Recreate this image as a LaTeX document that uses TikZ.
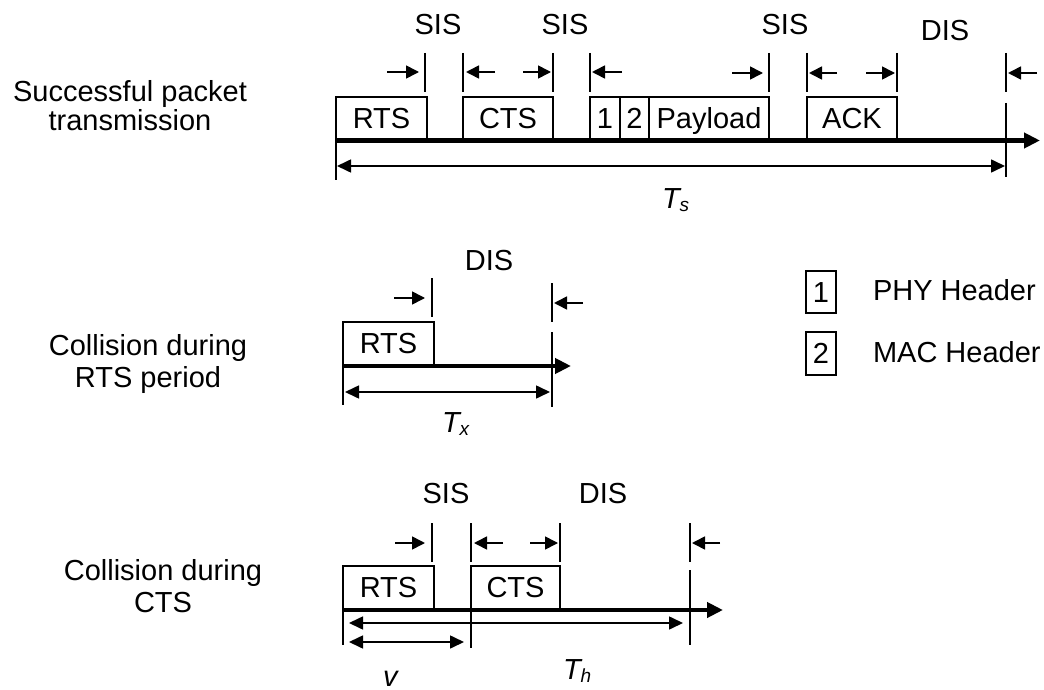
\documentclass[tikz,border=0pt]{standalone}
\usepackage{fontspec}
\setmainfont{Liberation Sans}
\usetikzlibrary{arrows.meta}
\newcommand{\subit}[1]{\raisebox{-3pt}{\fontsize{19}{20}\selectfont\itshape #1}}
\begin{document}
\begin{tikzpicture}[x=1pt,y=-1pt,
  every node/.style={font=\fontsize{29}{32}\selectfont, inner sep=0pt, outer sep=0pt},
  txt/.style={anchor=base},
  pkt/.style={draw, line width=1.8pt, anchor=north west, minimum height=42pt, text height=20.8pt, text depth=0pt},
  tick/.style={line width=1.4pt},
  timeline/.style={line width=4.5pt, -{Triangle[length=16pt,width=15pt]}},
  sarr/.style={line width=1.6pt, -{Triangle[length=13pt,width=13pt]}},
  span/.style={line width=1.6pt, {Triangle[length=14pt,width=13pt]}-{Triangle[length=14pt,width=13pt]}}
]
\useasboundingbox (0,0) rectangle (1044,690);

% ---------- left labels ----------
\node[txt] (l1a) at (130,102) {Successful packet};
\node[txt] (l1b) at (130,131) {transmission};
\node[txt] (l2a) at (148,355) {Collision during};
\node[txt] (l2b) at (148,387) {RTS period};
\node[txt] (l3a) at (163,580) {Collision during};
\node[txt] (l3b) at (163,612) {CTS};

% ================= Row 1 =================
\node[pkt, minimum width=91pt] (r1rts) at (336,97) {RTS};
\node[pkt, minimum width=90pt] (r1cts) at (463,97) {CTS};
\node[pkt, minimum width=30pt] (r1h1) at (590,97) {1};
\node[pkt, minimum width=29pt] (r1h2) at (620,97) {2};
\node[pkt, minimum width=120pt] (r1pl) at (649,97) {Payload};
\node[pkt, minimum width=90pt] (r1ack) at (807,97) {ACK};

\coordinate (r1s) at (336,140.5);
\coordinate (r1e) at (1040,140.5);
\coordinate (r1lb) at (336,180);
\draw[tick] (r1rts.north west) -- (r1lb);
\draw[timeline] (r1s) -- (r1e);

% ticks
\coordinate (t1a) at (425,53);  \coordinate (t1b) at (425,92);
\coordinate (t2a) at (463,53);  \coordinate (t2b) at (463,92);
\coordinate (t3a) at (553,53);  \coordinate (t3b) at (553,92);
\coordinate (t4a) at (590,53);  \coordinate (t4b) at (590,92);
\coordinate (t5a) at (769,53);  \coordinate (t5b) at (769,92);
\coordinate (t6a) at (807,53);  \coordinate (t6b) at (807,92);
\coordinate (t7a) at (897,53);  \coordinate (t7b) at (897,92);
\coordinate (t8a) at (1006,53); \coordinate (t8b) at (1006,92);
\coordinate (t8c) at (1006,103); \coordinate (t8d) at (1006,177);
\foreach \i in {1,...,8} {\draw[tick] (t\i a) -- (t\i b);}
\draw[tick] (t8c) -- (t8d);

% small arrows
\draw[sarr] (387,72) -- (419,72);
\draw[sarr] (495,72) -- (466,72);
\draw[sarr] (523,72) -- (551,72);
\draw[sarr] (622,72) -- (592,72);
\draw[sarr] (732,73) -- (763,73);
\draw[sarr] (837,73) -- (809,73);
\draw[sarr] (866,73) -- (895,73);
\draw[sarr] (1037,73) -- (1008,73);

\node[txt] (sis1) at (438,35) {SIS};
\node[txt] (sis2) at (565,35) {SIS};
\node[txt] (sis3) at (785,35) {SIS};
\node[txt] (dis1) at (945,41) {DIS};

\coordinate (ts0) at (337,166);
\coordinate (ts1) at (1005,166);
\draw[span] (ts0) -- (ts1);
\node[anchor=base west] (tslbl) at (662,208) {\itshape T\subit{s}};

% ================= Row 2 =================
\node[pkt, minimum width=91pt, minimum height=43pt] (r2rts) at (343,322) {RTS};
\coordinate (r2s) at (343,366);
\coordinate (r2e) at (571,366);
\coordinate (r2lb) at (343,405);
\draw[tick] (r2rts.north west) -- (r2lb);
\draw[timeline] (r2s) -- (r2e);

\coordinate (u1a) at (432,278); \coordinate (u1b) at (432,317);
\coordinate (u2a) at (552,283); \coordinate (u2b) at (552,322);
\coordinate (u2c) at (552,332); \coordinate (u2d) at (552,407);
\draw[tick] (u1a) -- (u1b);
\draw[tick] (u2a) -- (u2b);
\draw[tick] (u2c) -- (u2d);
\draw[sarr] (394,298) -- (425,298);
\draw[sarr] (583,303) -- (554,303);

\node[txt] (dis2) at (489,270) {DIS};
\coordinate (tx0) at (345,392);
\coordinate (tx1) at (550,392);
\draw[span] (tx0) -- (tx1);
\node[anchor=base west] (txlbl) at (442,432) {\itshape T\subit{x}};

% ================= Row 3 =================
\node[pkt, minimum width=91pt, minimum height=43pt] (r3rts) at (343,566) {RTS};
\node[pkt, minimum width=89pt, minimum height=43pt] (r3cts) at (471,566) {CTS};
\coordinate (r3s) at (343,610);
\coordinate (r3e) at (723,610);
\coordinate (r3lb) at (343,645);
\draw[tick] (r3rts.north west) -- (r3lb);
\draw[timeline] (r3s) -- (r3e);

\coordinate (w1a) at (432,523); \coordinate (w1b) at (432,562);
\coordinate (w2a) at (471,523); \coordinate (w2b) at (471,562);
\coordinate (w2c) at (471,648);
\coordinate (w3a) at (560,523); \coordinate (w3b) at (560,562);
\coordinate (w4a) at (690,523); \coordinate (w4b) at (690,562);
\coordinate (w4c) at (690,570); \coordinate (w4d) at (690,645);
\draw[tick] (w1a) -- (w1b);
\draw[tick] (w2a) -- (w2b);
\draw[tick] (r3cts.south west) -- (w2c);
\draw[tick] (w3a) -- (w3b);
\draw[tick] (w4a) -- (w4b);
\draw[tick] (w4c) -- (w4d);
\draw[sarr] (395,543) -- (425,543);
\draw[sarr] (503,543) -- (474,543);
\draw[sarr] (530,543) -- (558,543);
\draw[sarr] (720,543) -- (692,543);

\node[txt] (sis4) at (446,503) {SIS};
\node[txt] (dis3) at (603,503) {DIS};

\coordinate (th0) at (349,623);
\coordinate (th1) at (683,623);
\draw[span] (th0) -- (th1);
\coordinate (v0) at (349,642);
\coordinate (v1) at (464,642);
\draw[span] (v0) -- (v1);
\node[anchor=base west] (thlbl) at (563,679) {\itshape T\subit{h}};
\node[anchor=base west] (vlbl) at (383,686) {\itshape v};

% ================= Legend =================
\node[pkt, minimum width=30pt, minimum height=42pt] (lg1) at (806,271) {1};
\node[pkt, minimum width=30pt, minimum height=43pt] (lg2) at (806,332) {2};
\node[anchor=base west] (lg1t) at (873,300) {PHY Header};
\node[anchor=base west] (lg2t) at (873,362) {MAC Header};
\end{tikzpicture}
\end{document}
